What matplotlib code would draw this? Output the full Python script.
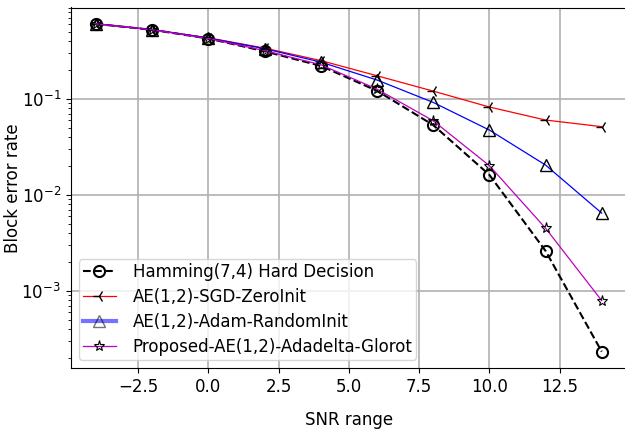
import matplotlib
matplotlib.use("Agg")
import matplotlib.pyplot as plt
import numpy as np

snr = [-4, -2, 0, 2, 4, 6, 8, 10, 12, 14]
hamming = [0.608, 0.527, 0.428, 0.315, 0.222, 0.122, 0.0536, 0.0162, 0.00261, 0.000232]
sgd_zero = [0.608, 0.530, 0.435, 0.340, 0.252, 0.175, 0.121, 0.0826, 0.0604, 0.0515]
adam_rand = [0.608, 0.530, 0.433, 0.335, 0.243, 0.158, 0.0923, 0.0475, 0.0205, 0.00646]
adadelta = [0.608, 0.527, 0.428, 0.320, 0.228, 0.127, 0.0594, 0.0202, 0.0045, 0.00079]

labels = ["Hamming(7,4) Hard Decision", "AE(1,2)-SGD-ZeroInit",
          "AE(1,2)-Adam-RandomInit", "Proposed-AE(1,2)-Adadelta-Glorot"]

plt.rcParams['font.family'] = ['DejaVu Sans']
plt.rcParams['font.size'] = 12

fig = plt.figure(figsize=(6.25, 4.32), dpi=100)
ax = fig.add_axes([70.7/625, 64/432, (627-70.7)/625, (368-7.5)/432])

ax.semilogy(snr, hamming, 'k--', lw=1.5, marker='o', ms=8, mfc='none', mec='k', mew=1.5, label=labels[0])
ax.semilogy(snr, sgd_zero, 'r-', lw=0.9, marker='3', ms=9, mec='k', mew=1.0, label=labels[1])
ax.semilogy(snr, adam_rand, 'b-', lw=0.9, marker='^', ms=8, mfc='none', mec='k', mew=1.0, label=labels[2])
ax.semilogy(snr, adadelta, 'm-', lw=0.9, marker='*', ms=8, mfc='none', mec='k', mew=0.8, label=labels[3])

ax.grid(True, which='major', color='#b0b0b0', lw=1.2)
ax.set_xlabel("SNR range", labelpad=11)
ax.set_ylabel("Block error rate")
ax.yaxis.set_label_coords(-0.088, 0.5)
ax.tick_params(which='both', direction='out')

leg = ax.legend(loc='lower left', fontsize=12, handlelength=2.0,
                labelspacing=0.42, borderpad=0.22, handletextpad=1.0)
h = leg.get_lines()[2]
h.set_linewidth(3)
h.set_alpha(0.55)

fig.savefig("out.png", dpi=100)
